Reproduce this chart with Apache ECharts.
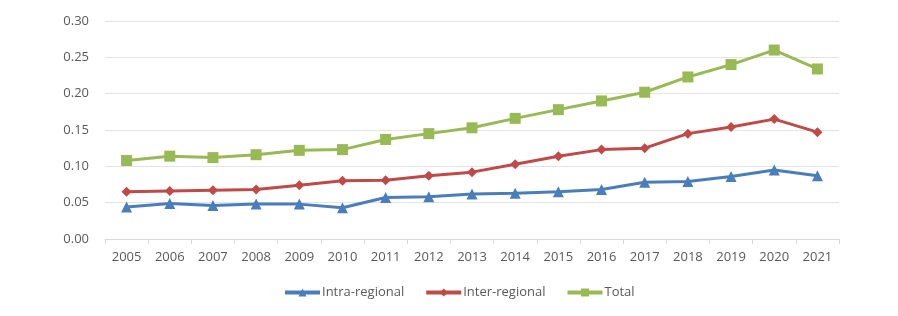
<!DOCTYPE html>
<html><head><meta charset="utf-8">
<script src="https://cdn.jsdelivr.net/npm/echarts@6/dist/echarts.min.js"></script>
<style>html,body{margin:0;padding:0;background:#fff}#c{width:898px;height:316px}</style>
</head><body><div id="c"></div>
<script>
const years = ['2005','2006','2007','2008','2009','2010','2011','2012','2013','2014','2015','2016','2017','2018','2019','2020','2021'];
const intraRegional = [0.044,0.049,0.046,0.048,0.048,0.043,0.057,0.058,0.062,0.063,0.065,0.068,0.078,0.079,0.086,0.095,0.087];
const interRegional = [0.065,0.066,0.067,0.068,0.074,0.080,0.081,0.087,0.092,0.103,0.114,0.123,0.125,0.145,0.154,0.165,0.147];
const total = [0.108,0.114,0.112,0.116,0.122,0.123,0.137,0.145,0.153,0.166,0.178,0.190,0.202,0.223,0.240,0.260,0.234];
const names = ['Intra-regional','Inter-regional','Total'];
const font = 'Open Sans, Liberation Sans, sans-serif';
const chart = echarts.init(document.getElementById('c'));
function s(name, data, color, symbol, size){
  return {name, type:'line', data, symbol, symbolSize:size, showSymbol:true,
    lineStyle:{color, width:3}, itemStyle:{color}, animation:false};
}
chart.setOption({
  animation:false,
  grid:{left:105,right:59,top:21,bottom:77},
  legend:{bottom:12,left:278,itemWidth:35,itemHeight:10,itemGap:20,
    lineStyle:{width:4},
    textStyle:{color:'#595959',fontSize:13,fontFamily:font,padding:[0,0,0,-3]}, data:names},
  xAxis:{type:'category',data:years,boundaryGap:true,
    axisLine:{lineStyle:{color:'#d9d9d9'}},
    axisTick:{show:true,alignWithLabel:false,length:5,lineStyle:{color:'#d9d9d9'}},
    axisLabel:{color:'#595959',fontSize:13,fontFamily:font,margin:12}},
  yAxis:{type:'value',min:0,max:0.30,interval:0.05,
    axisLine:{show:false},axisTick:{show:false},
    splitLine:{lineStyle:{color:'#e3e3e3'}},
    axisLabel:{color:'#595959',fontSize:13,fontFamily:font,margin:16,formatter:v=>v.toFixed(2)}},
  series:[
    s(names[0],intraRegional,'#4a7ebb','triangle',11),
    s(names[1],interRegional,'#be4b48','diamond',10),
    s(names[2],total,'#98b954','rect',11)
  ]
});
</script></body></html>
